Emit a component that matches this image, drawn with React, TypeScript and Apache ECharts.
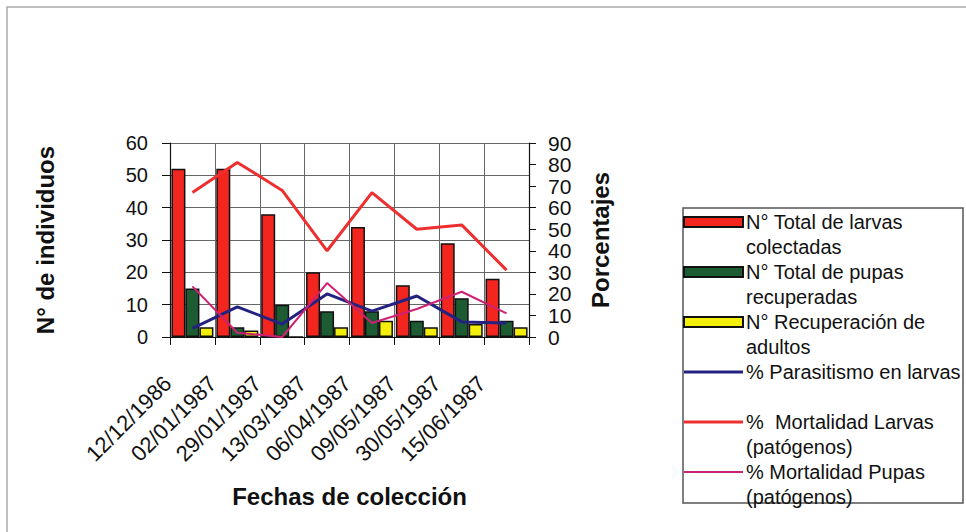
import { useEffect, useRef } from 'react';
import * as echarts from 'echarts';

const categories = ['12/12/1986', '02/01/1987', '29/01/1987', '13/03/1987', '06/04/1987', '09/05/1987', '30/05/1987', '15/06/1987'];
const larvasColectadas = [52, 52, 38, 20, 34, 16, 29, 18];
const pupasRecuperadas = [15, 3, 10, 8, 8, 5, 12, 5];
const adultosRecuperados = [3, 2, 0, 3, 5, 3, 4, 3];
const parasitismoLarvas = [4, 14, 6, 20, 12, 19, 7, 6.5];
const mortalidadLarvas = [67, 81, 68, 40, 67, 50, 52, 31];
const mortalidadPupas = [23.5, 2, 0, 25, 6.5, 13, 21, 11];

const leftTicks = { min: 0, max: 60, interval: 10 };
const rightTicks = { min: 0, max: 90, interval: 10 };

const seriesNames = [
  'N° Total de larvas\ncolectadas',
  'N° Total de pupas\nrecuperadas',
  'N° Recuperación de\nadultos',
  '% Parasitismo en larvas',
  '%  Mortalidad Larvas\n(patógenos)',
  '% Mortalidad Pupas\n(patógenos)',
];
const seriesColors = ['#f3261f', '#1d5c33', '#f4ef0a', '#23227f', '#ee2f2f', '#cf2173'];
const legendRows = [0, 2, 4, 6, 8, 10];

export default function App() {
  const ref = useRef<HTMLDivElement>(null);
  useEffect(() => {
    const chart = echarts.init(ref.current!, null, { renderer: 'svg' });
    const font = '"Liberation Sans", Arial, Helvetica, sans-serif';

    const barStyle = (c: string) => ({ color: c, borderColor: '#111', borderWidth: 1.5 });

    const legendGraphics: any[] = [
      {
        type: 'rect',
        shape: { x: 683, y: 208, width: 280, height: 295 },
        style: { fill: 'none', stroke: '#555', lineWidth: 1.5 },
      },
    ];
    seriesNames.forEach((name, i) => {
      const cy = 222 + legendRows[i] * 25;
      if (i < 3) {
        legendGraphics.push({
          type: 'rect',
          shape: { x: 684, y: cy - 5, width: 59, height: 10 },
          style: { fill: seriesColors[i], stroke: '#111', lineWidth: 2 },
        });
      } else {
        legendGraphics.push({
          type: 'line',
          shape: { x1: 684, y1: cy, x2: 743, y2: cy },
          style: { stroke: seriesColors[i], lineWidth: i === 5 ? 2 : 3 },
        });
      }
      legendGraphics.push({
        type: 'text',
        x: 746,
        y: cy - 12.5,
        style: {
          text: name,
          font: `20px ${font}`,
          fill: '#111',
          lineHeight: 25,
          verticalAlign: 'top',
          align: 'left',
        },
      });
    });

    const option: any = {
      animation: false,
      backgroundColor: '#fff',
      textStyle: { fontFamily: font },
      grid: { left: 170, right: 437, top: 143, bottom: 195, containLabel: false },
      xAxis: {
        type: 'category',
        data: categories,
        boundaryGap: true,
        axisLine: { lineStyle: { color: '#111', width: 1.2 } },
        axisTick: { show: true, length: 8, lineStyle: { color: '#111' } },
        splitLine: { show: true, interval: 0, lineStyle: { color: '#666', width: 1 } },
        axisLabel: {
          interval: 0,
          rotate: 45,
          fontSize: 22,
          color: '#111',
          fontFamily: font,
          margin: 18,
          padding: [0, 35, 0, 0],
        },
        name: 'Fechas de colección',
        nameLocation: 'middle',
        nameGap: 147,
        nameTextStyle: { fontSize: 24, fontWeight: 'bold', color: '#111', fontFamily: font },
      },
      yAxis: [
        {
          type: 'value',
          min: leftTicks.min,
          max: leftTicks.max,
          interval: leftTicks.interval,
          axisLine: { show: true, lineStyle: { color: '#111', width: 1.2 } },
          axisTick: { show: true, length: 8, lineStyle: { color: '#111' } },
          splitLine: { show: true, lineStyle: { color: '#666', width: 1 } },
          axisLabel: { fontSize: 20, color: '#111', margin: 22, fontFamily: font, showMinLabel: true, showMaxLabel: true },
          name: 'N° de individuos',
          nameLocation: 'middle',
          nameGap: 113,
          nameTextStyle: { fontSize: 24, fontWeight: 'bold', color: '#111', fontFamily: font },
        },
        {
          type: 'value',
          position: 'right',
          min: rightTicks.min,
          max: rightTicks.max,
          interval: rightTicks.interval,
          axisLine: { show: true, lineStyle: { color: '#111', width: 1.2 } },
          axisTick: { show: true, length: 7, lineStyle: { color: '#111' } },
          splitLine: { show: false },
          axisLabel: {
            fontSize: 21,
            lineHeight: 20,
            color: '#111',
            margin: 19,
            fontFamily: font,
            showMinLabel: true,
            showMaxLabel: true,
            hideOverlap: false,
          },
          name: 'Porcentajes',
          nameLocation: 'middle',
          nameGap: 59,
          nameTextStyle: { fontSize: 24, fontWeight: 'bold', color: '#111', fontFamily: font },
        },
      ],
      series: [
        {
          name: seriesNames[0],
          type: 'bar',
          data: larvasColectadas,
          barWidth: 14,
          barGap: '0%',
          itemStyle: barStyle(seriesColors[0]),
        },
        {
          name: seriesNames[1],
          type: 'bar',
          data: pupasRecuperadas,
          barWidth: 14,
          barGap: '0%',
          itemStyle: barStyle(seriesColors[1]),
        },
        {
          name: seriesNames[2],
          type: 'bar',
          data: adultosRecuperados,
          barWidth: 14,
          barGap: '0%',
          itemStyle: barStyle(seriesColors[2]),
        },
        {
          name: seriesNames[3],
          type: 'line',
          yAxisIndex: 1,
          data: parasitismoLarvas,
          showSymbol: false,
          symbol: 'none',
          lineStyle: { color: seriesColors[3], width: 3 },
          itemStyle: { color: seriesColors[3] },
          z: 5,
        },
        {
          name: seriesNames[4],
          type: 'line',
          yAxisIndex: 1,
          data: mortalidadLarvas,
          showSymbol: false,
          symbol: 'none',
          lineStyle: { color: seriesColors[4], width: 3 },
          itemStyle: { color: seriesColors[4] },
          z: 5,
        },
        {
          name: seriesNames[5],
          type: 'line',
          yAxisIndex: 1,
          data: mortalidadPupas,
          showSymbol: false,
          symbol: 'none',
          lineStyle: { color: seriesColors[5], width: 2 },
          itemStyle: { color: seriesColors[5] },
          z: 5,
        },
      ],
      graphic: [
        {
          type: 'rect',
          shape: { x: 7, y: 7, width: 975, height: 540 },
          style: { fill: 'none', stroke: '#aaa', lineWidth: 1.5 },
          silent: true,
        },
        ...legendGraphics,
      ],
    };
    chart.setOption(option);
    return () => chart.dispose();
  }, []);
  return (
    <div
      ref={ref}
      style={{ position: 'fixed', left: 0, top: 0, width: 966, height: 532, background: '#fff' }}
    />
  );
}
